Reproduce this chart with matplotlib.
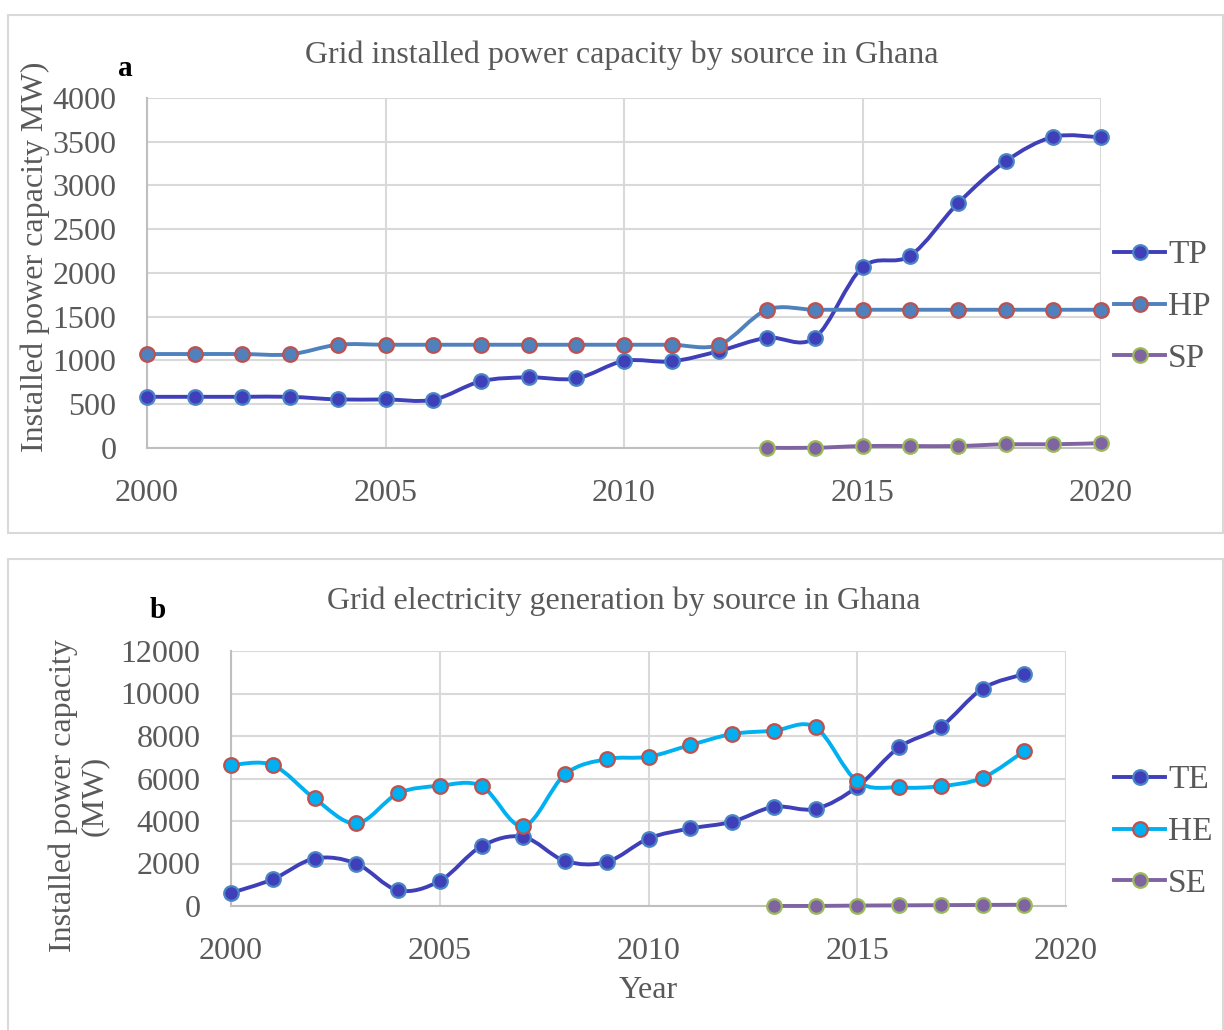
import numpy as np
import matplotlib
matplotlib.use("Agg")
import matplotlib.pyplot as plt
from matplotlib.path import Path
from matplotlib.patches import PathPatch, Rectangle
from matplotlib.lines import Line2D

# ---- data: installed capacity (MW) ----
years_cap = list(range(2000, 2021))
tp = [585, 585, 585, 585, 555, 555, 552, 762, 808, 795, 995, 990,
      1109, 1260, 1260, 2065, 2198, 2796, 3276, 3556, 3550]
hp = [1074, 1074, 1074, 1070, 1180, 1180, 1180, 1180, 1180, 1180, 1180,
      1180, 1180, 1580, 1580, 1580, 1580, 1580, 1580, 1580, 1580]
years_sp = list(range(2013, 2021))
sp = [2.5, 2.5, 22.5, 22.5, 22.6, 42.6, 42.6, 55]

# ---- data: generation ----
years_gen = list(range(2000, 2020))
te = [613, 1258, 2233, 1998, 740, 1178, 2813, 3252, 2121, 2074, 3176,
      3648, 3960, 4667, 4571, 5608, 7465, 8436, 10227, 10919]
he = [6631, 6631, 5061, 3883, 5297, 5655, 5640, 3756, 6192, 6913, 7022,
      7573, 8091, 8247, 8405, 5861, 5578, 5640, 6032, 7290]
years_se = list(range(2013, 2020))
se = [3, 3, 20, 30, 40, 50, 60]

W, H = 1224, 1030
TXT = "#595959"
GRID = "#D9D9D9"
SERIF = "Liberation Serif"

plt.rcParams["font.family"] = [SERIF, "DejaVu Serif"]

fig = plt.figure(figsize=(W / 100, H / 100), dpi=100)


def fx(x):
    return x / W


def fy(y):
    return 1 - y / H


def axes_px(left, top, right, bottom):
    return fig.add_axes([fx(left), fy(bottom), (right - left) / W, (bottom - top) / H])


def smooth_path(x, y):
    pts = np.column_stack([x, y]).astype(float)
    n = len(pts)
    verts = [pts[0]]
    codes = [Path.MOVETO]
    for i in range(n - 1):
        p0 = pts[max(i - 1, 0)]
        p1 = pts[i]
        p2 = pts[i + 1]
        p3 = pts[min(i + 2, n - 1)]
        c1 = p1 + (p2 - p0) / 6.0
        c2 = p2 - (p3 - p1) / 6.0
        verts += [c1, c2, p2]
        codes += [Path.CURVE4] * 3
    return Path(verts, codes)


LW = 2.8
MS = 10.5
MEW = 1.6
TICK_FS = 23


def draw_series(ax, x, y, line_c, face_c, edge_c, z):
    patch = PathPatch(smooth_path(x, y), fill=False, edgecolor=line_c, lw=LW,
                      capstyle="round", joinstyle="round", zorder=z, clip_on=False)
    ax.add_patch(patch)
    ax.plot(x, y, linestyle="none", marker="o", ms=MS, mfc=face_c, mec=edge_c,
            mew=MEW, zorder=z + 0.5, clip_on=False)
    return Line2D([], [], color=line_c, lw=LW, marker="o", ms=MS, mfc=face_c,
                  mec=edge_c, mew=MEW)


def style_axes(ax, ymax, ystep):
    ax.set_xlim(2000, 2020)
    ax.set_ylim(0, ymax)
    ax.set_xticks(range(2000, 2021, 5))
    ax.set_yticks(range(0, ymax + 1, ystep))
    ax.grid(True, color=GRID, lw=1.5)
    ax.set_axisbelow(True)
    for s in ("top", "right"):
        ax.spines[s].set_visible(False)
    for s in ("left", "bottom"):
        ax.spines[s].set_color("#BFBFBF")
        ax.spines[s].set_linewidth(1.5)
    ax.tick_params(length=0, labelsize=TICK_FS, labelcolor=TXT)
    ax.tick_params(axis="x", pad=22)
    ax.tick_params(axis="y", pad=22)


def add_legend(handles, labels, y_center):
    fig.legend(handles, labels, loc="center left",
               bbox_to_anchor=(fx(1097), fy(y_center)),
               frameon=False, fontsize=24, labelcolor=TXT, handlelength=1.55,
               handletextpad=0.08, labelspacing=0.64, borderpad=0)


# panel frames
for (l, t, r, b) in [(8, 15, 1223, 533), (8, 559, 1223, 1040)]:
    fig.patches.append(Rectangle((fx(l), fy(b)), (r - l) / W, (b - t) / H,
                                 transform=fig.transFigure, fill=False,
                                 edgecolor=GRID, lw=1.5))

# ---- panel a ----
ax1 = axes_px(147, 98, 1101, 448)
style_axes(ax1, 4000, 500)
h_tp = draw_series(ax1, years_cap, tp, "#3F3FBA", "#3F3FBA", "#4A86C5", 3)
h_hp = draw_series(ax1, years_cap, hp, "#4F81BD", "#4F81BD", "#C0504D", 4)
h_sp = draw_series(ax1, years_sp, sp, "#8064A2", "#8064A2", "#9BBB59", 5)
fig.text(fx(622), fy(55), "Grid installed power capacity by source in Ghana",
         ha="center", va="center", fontsize=23, color=TXT)
fig.text(fx(35), fy(257), "Installed power capacity MW)", rotation=90,
         ha="center", va="center", fontsize=23, color=TXT)
fig.text(fx(125), fy(68), "a", ha="center", va="center", fontsize=21,
         fontweight="bold", color="black")
add_legend([h_tp, h_hp, h_sp], ["TP", "HP", "SP"], 307)

# ---- panel b ----
ax2 = axes_px(231, 651, 1066, 906)
style_axes(ax2, 12000, 2000)
h_te = draw_series(ax2, years_gen, te, "#3F3FBA", "#3F3FBA", "#4A86C5", 3)
h_he = draw_series(ax2, years_gen, he, "#00B0F0", "#00B0F0", "#C0504D", 4)
h_se = draw_series(ax2, years_se, se, "#8064A2", "#8064A2", "#9BBB59", 5)
fig.text(fx(624), fy(601), "Grid electricity generation by source in Ghana",
         ha="center", va="center", fontsize=23, color=TXT)
fig.text(fx(79), fy(796), "Installed power capacity\n(MW)", rotation=90,
         ha="center", va="center", fontsize=23, color=TXT, linespacing=1.08)
fig.text(fx(158), fy(610), "b", ha="center", va="center", fontsize=21,
         fontweight="bold", color="black")
fig.text(fx(648), fy(990), "Year", ha="center", va="center", fontsize=23,
         color=TXT)
add_legend([h_te, h_he, h_se], ["TE", "HE", "SE"], 832)

fig.savefig("out.png", dpi=100, facecolor="white")
